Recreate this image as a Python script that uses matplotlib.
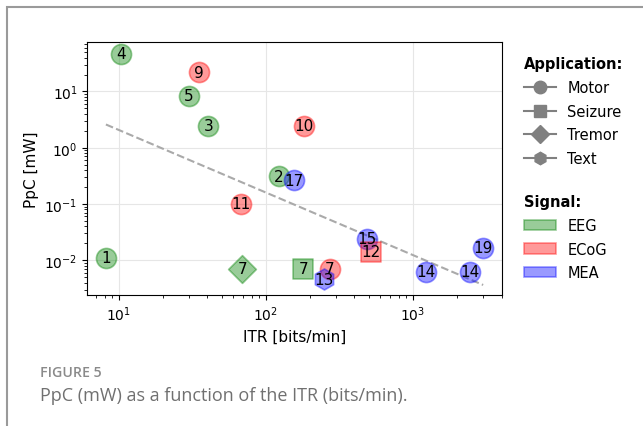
import numpy as np
import matplotlib.pyplot as plt
from matplotlib.lines import Line2D
from matplotlib.patches import Patch, Rectangle

# data
itr = [8.2, 123, 40.5, 10.4, 29.8, 69, 180, 271, 35, 181, 67.9, 520, 247, 1219, 2432, 484, 154, 2980]
ppc = [0.0111, 0.308, 2.48, 47.4, 8.35, 0.0071, 0.0071, 0.0071, 21.8, 2.48, 0.1016, 0.0142, 0.00457,
       0.00627, 0.00627, 0.0242, 0.264, 0.01675]
refs = [1, 2, 3, 4, 5, 7, 7, 7, 9, 10, 11, 12, 13, 14, 14, 15, 17, 19]
signal = ['EEG', 'EEG', 'EEG', 'EEG', 'EEG', 'EEG', 'EEG', 'ECoG', 'ECoG', 'ECoG', 'ECoG', 'ECoG', 'MEA',
          'MEA', 'MEA', 'MEA', 'MEA', 'MEA']
application = ['Motor', 'Motor', 'Motor', 'Motor', 'Motor', 'Tremor', 'Seizure', 'Motor', 'Motor', 'Motor',
               'Motor', 'Seizure', 'Text', 'Motor', 'Motor', 'Motor', 'Motor', 'Motor']

# draw order (later on top)
order = [0, 3, 4, 2, 8, 9, 1, 16, 10, 5, 6, 7, 12, 15, 11, 13, 14, 17]

fit_x = [8.16, 3000]
fit_y = [2.59, 0.00362]

sig_names = ['EEG', 'ECoG', 'MEA']
sig_colors = {'EEG': 'green', 'ECoG': 'red', 'MEA': 'blue'}
app_names = ['Motor', 'Seizure', 'Tremor', 'Text']
app_markers = {'Motor': 'o', 'Seizure': 's', 'Tremor': 'D', 'Text': 'h'}
app_sizes = {'Motor': 210, 'Seizure': 190, 'Tremor': 200, 'Text': 230}

fig = plt.figure(figsize=(6.43, 4.27), dpi=100)

# page frame
fig.patches.append(Rectangle((7 / 643, -0.1), 1.2, 1.1 - 8 / 427, transform=fig.transFigure,
                             fill=False, edgecolor='#9a9a9a', linewidth=1.5))

ax = fig.add_axes([0.1358, 0.3068, 0.6442, 0.5918])
ax.set_xscale('log')
ax.set_yscale('log')

ax.plot(fit_x, fit_y, '--', color='#aaaaaa', linewidth=1.5, zorder=1)

for i in order:
    c = sig_colors[signal[i]]
    a = application[i]
    ax.scatter(itr[i], ppc[i], s=app_sizes[a], marker=app_markers[a], color=c, alpha=0.4,
               linewidths=1.2, zorder=3)
    ax.text(itr[i], ppc[i], str(refs[i]), ha='center', va='center', fontsize=11, zorder=4)

ax.set_xlim(6.1, 4000)
ax.set_ylim(0.0024, 75)
ax.grid(True, which='major', color='#e6e6e6', linewidth=0.8)
ax.set_axisbelow(True)
ax.set_xlabel('ITR [bits/min]', fontsize=11)
ax.set_ylabel('PpC [mW]', fontsize=11)

app_handles = [Line2D([0], [0], color='gray', marker=app_markers[n], markersize=9, linewidth=1.5)
               for n in app_names]
leg1 = fig.legend(app_handles, app_names, title='Application:', loc='upper left',
                  bbox_to_anchor=(0.794, 0.897), frameon=False, fontsize=10.5,
                  title_fontproperties={'weight': 'bold', 'size': 10.5}, alignment='left',
                  handlelength=2.2, labelspacing=0.6)
sig_handles = [Patch(facecolor=sig_colors[n], edgecolor=sig_colors[n], alpha=0.4, linewidth=1.2)
               for n in sig_names]
leg2 = fig.legend(sig_handles, sig_names, title='Signal:', loc='upper left',
                  bbox_to_anchor=(0.794, 0.574), frameon=False, fontsize=10.5,
                  title_fontproperties={'weight': 'bold', 'size': 10.5}, alignment='left',
                  handlelength=2.2, labelspacing=0.6)

fig.text(40 / 643, 1 - 373 / 427, 'FIGURE 5', family='Open Sans', fontsize=10.2, color='#8a8a8a',
         weight='semibold', va='center')
fig.text(40 / 643, 1 - 396 / 427, 'PpC (mW) as a function of the ITR (bits/min).', family='Open Sans',
         fontsize=13, color='#707070', va='center')

fig.savefig('out.png', dpi=100)
